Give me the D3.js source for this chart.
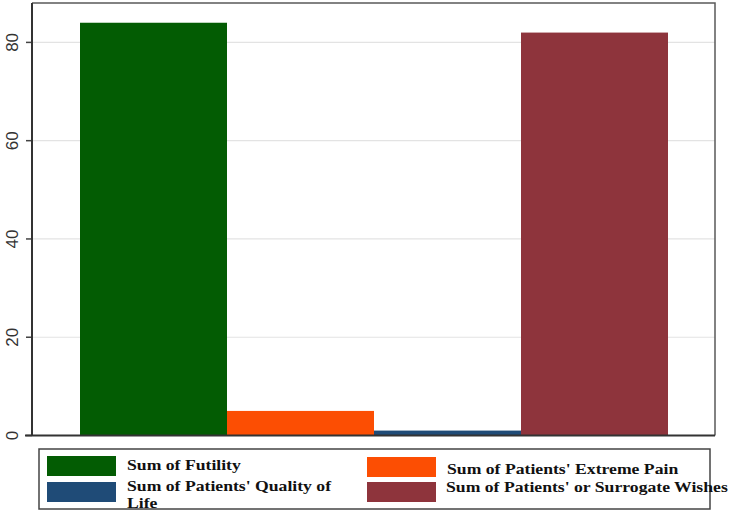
<!DOCTYPE html>
<html><head><meta charset="utf-8">
<script src="https://cdn.jsdelivr.net/npm/d3@7"></script>
<style>html,body{margin:0;padding:0;background:#fff;}svg{display:block;}</style>
</head><body>
<script>
const categories = ["Sum of Futility", "Sum of Patients' Extreme Pain", "Sum of Patients' Quality of Life", "Sum of Patients' or Surrogate Wishes"];
const values = [84, 5, 1, 82];
const colors = ["#035c03", "#fc4e03", "#1f4b77", "#8e343c"];
const yTicks = [0, 20, 40, 60, 80];

const W = 730, H = 514;
const svg = d3.select("body").append("svg").attr("width", W).attr("height", H);

const plotL = 32, plotR = 715, plotT = 3, plotB = 435.5;
const x = d3.scaleBand().domain(categories).range([80, 668]).padding(0);
const y = d3.scaleLinear().domain([0, 80]).range([plotB, 42.4]);

// gridlines
svg.append("g").selectAll("line").data(yTicks.filter(d => d > 0)).join("line")
  .attr("x1", plotL).attr("x2", plotR).attr("y1", d => y(d)).attr("y2", d => y(d))
  .attr("stroke", "#e3e3e3").attr("stroke-width", 1.2);

// bars
svg.append("g").selectAll("rect").data(categories).join("rect")
  .attr("x", d => x(d)).attr("width", x.bandwidth())
  .attr("y", (d, i) => y(values[i])).attr("height", (d, i) => plotB - y(values[i]))
  .attr("fill", (d, i) => colors[i]);

// frame top / right
svg.append("path").attr("d", `M${plotL},${plotT}H${plotR}V${plotB}`)
  .attr("fill", "none").attr("stroke", "#5a5a5a").attr("stroke-width", 1.5);

// y axis
const yAxis = d3.axisLeft(y).tickValues(yTicks).tickSize(6).tickPadding(4).tickFormat(d3.format("d"));
const gy = svg.append("g").attr("transform", `translate(${plotL},0)`).call(yAxis);
gy.select(".domain").remove();
gy.selectAll(".tick line").attr("stroke", "#444").attr("stroke-width", 1.5);
gy.selectAll(".tick text")
  .attr("dy", "0.35em")
  .attr("text-anchor", "middle")
  .style("font-family", "Liberation Sans, Arial, sans-serif").style("font-size", "17px")
  .attr("fill", "#333");
gy.selectAll(".tick text").each(function(d){
  d3.select(this).attr("transform", `translate(-20,${y(d)}) rotate(-90)`).attr("x",0).attr("y",0);
});
gy.selectAll(".tick").attr("transform", null);
gy.selectAll(".tick line").attr("y1", d => y(d)).attr("y2", d => y(d)).attr("x1", -6).attr("x2", 0);

// left axis line and baseline
svg.append("line").attr("x1", plotL).attr("x2", plotL).attr("y1", plotT).attr("y2", plotB)
  .attr("stroke", "#333").attr("stroke-width", 2);
svg.append("line").attr("x1", 25).attr("x2", plotR).attr("y1", plotB).attr("y2", plotB)
  .attr("stroke", "#333").attr("stroke-width", 2);

// legend
const lg = svg.append("g");
lg.append("rect").attr("x", 39).attr("y", 449).attr("width", 671).attr("height", 60)
  .attr("fill", "#fff").attr("stroke", "#444").attr("stroke-width", 1.5);

const legendOrder = [0, 2, 1, 3];
const legendLines = [["Sum of Futility"], ["Sum of Patients' Quality of", "Life"], ["Sum of Patients' Extreme Pain"], ["Sum of Patients' or Surrogate Wishes"]];
const swX = [47, 47, 367, 367];
const swY = [456, 482, 457, 482];
const txX = [127, 127, 447, 446];
const txY = [470, 491, 474, 492];
legendOrder.forEach((ci, k) => {
  lg.append("rect").attr("x", swX[k]).attr("y", swY[k]).attr("width", 69).attr("height", 20).attr("fill", colors[ci]);
  const t = lg.append("text").attr("x", txX[k]).attr("y", txY[k])
    .style("font-family", "Liberation Serif, Times New Roman, serif").style("font-weight", "bold")
    .style("font-size", "15px").attr("fill", "#111");
  legendLines[k].forEach((ln, j) => {
    t.append("tspan").attr("x", txX[k]).attr("dy", j === 0 ? 0 : 17).text(ln);
  });
});
// horizontal stretch to match reference text width
const targetW = 114;
const first = lg.select("text tspan").node();
const sx = targetW / first.getComputedTextLength();
lg.selectAll("text").each(function(){
  const tx = +d3.select(this).attr("x");
  d3.select(this).attr("transform", `translate(${tx},0) scale(${sx},1) translate(${-tx},0)`);
});
</script>
</body></html>
